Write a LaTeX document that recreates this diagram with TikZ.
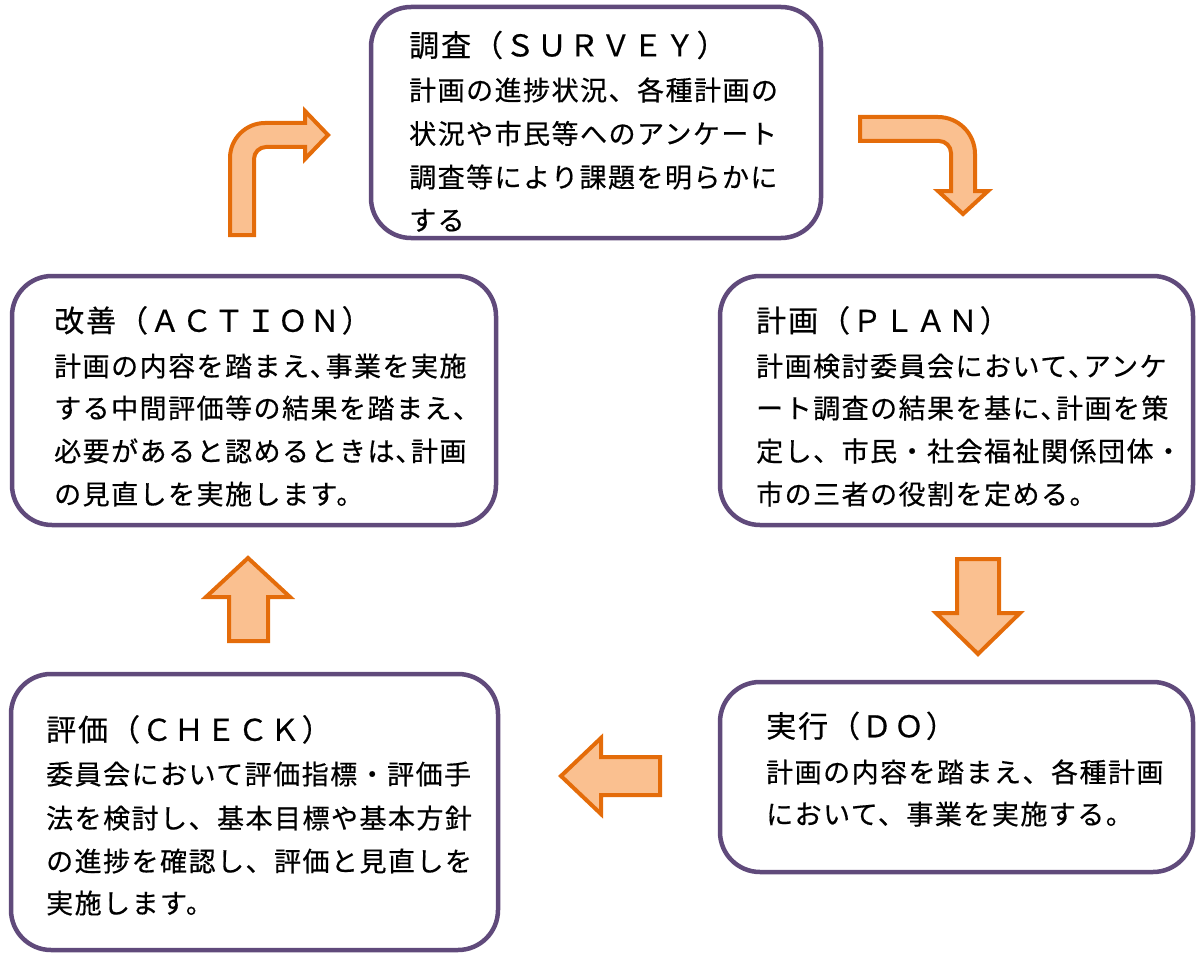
\documentclass[tikz,border=0pt]{standalone}
\usepackage{fontspec}
\newfontfamily\jpbody[LetterSpace=5.5,FakeBold=0.5]{Noto Sans CJK JP}
\newfontfamily\jptitle[LetterSpace=6.5,FakeBold=0.5]{Noto Sans CJK JP}
\definecolor{boxpurple}{HTML}{604A7B}
\definecolor{arrowline}{HTML}{E46C0A}
\definecolor{arrowfill}{HTML}{FAC090}
\tikzset{
  stagebox/.style={draw=boxpurple, line width=4.5pt, rounded corners=40pt, fill=white, inner sep=0pt, outer sep=0pt},
  titletext/.style={anchor=base west, inner sep=0pt, font=\jptitle\fontsize{30}{36}\selectfont},
  bodytext/.style={anchor=base west, inner sep=0pt, font=\jpbody\fontsize{27}{32}\selectfont},
  blockarrow/.style={draw=arrowline, fill=arrowfill, line width=4pt, line join=miter},
}
\begin{document}
\begin{tikzpicture}[x=1pt,y=-1pt]
\useasboundingbox (0,0) rectangle (1197,955);

% boxes
\node[stagebox, minimum width=450pt, minimum height=231pt] (survey) at (596,122.5) {};
\node[stagebox, minimum width=473pt, minimum height=249pt] (plan) at (956.5,400.5) {};
\node[stagebox, minimum width=484pt, minimum height=249pt] (action) at (254,400.5) {};
\node[stagebox, minimum width=473pt, minimum height=190pt] (do) at (956.5,777) {};
\node[stagebox, minimum width=487pt, minimum height=276pt] (check) at (254.5,812) {};

% SURVEY text
\node[titletext] (s0) at (409,56.4) {調査（ＳＵＲＶＥＹ）};
\node[bodytext] (s1) at (409,100.3) {計画の進捗状況、各種計画の};
\node[bodytext] (s2) at (409,143.8) {状況や市民等へのアンケート};
\node[bodytext] (s3) at (409,187.3) {調査等により課題を明らかに};
\node[bodytext] (s4) at (409,230.3) {する};

% PLAN text
\node[titletext] (p0) at (756,331.8) {計画（ＰＬＡＮ）};
\node[bodytext] (p1) at (756,376.3) {計画検討委員会において､アンケ};
\node[bodytext] (p2) at (756,418.3) {ート調査の結果を基に､計画を策};
\node[bodytext] (p3) at (756,461.3) {定し、市民・社会福祉関係団体・};
\node[bodytext] (p4) at (756,504.3) {市の三者の役割を定める。};

% ACTION text
\node[titletext] (a0) at (54,331.8) {改善（ＡＣＴＩＯＮ）};
\node[bodytext] (a1) at (54,376.3) {計画の内容を踏まえ､事業を実施};
\node[bodytext] (a2) at (54,418.3) {する中間評価等の結果を踏まえ、};
\node[bodytext] (a3) at (54,461.3) {必要があると認めるときは､計画};
\node[bodytext] (a4) at (54,504.3) {の見直しを実施します。};

% DO text
\node[titletext] (d0) at (766,737.3) {実行（ＤＯ）};
\node[bodytext] (d1) at (766,782.3) {計画の内容を踏まえ、各種計画};
\node[bodytext] (d2) at (766,824.3) {において、事業を実施する。};

% CHECK text
\node[titletext] (c0) at (46,740.8) {評価（ＣＨＥＣＫ）};
\node[bodytext] (c1) at (46,784.3) {委員会において評価指標・評価手};
\node[bodytext] (c2) at (46,828.3) {法を検討し、基本目標や基本方針};
\node[bodytext] (c3) at (46,871.3) {の進捗を確認し、評価と見直しを};
\node[bodytext] (c4) at (46,913.3) {実施します。};

% arrows
% ACTION -> SURVEY (bent up-right)
\draw[blockarrow] (230,235) -- (230,158) .. controls (230,138.7) and (245.7,123) .. (265,123)
  -- (305,123) -- (305,111) -- (328,135) -- (305,159) -- (305,147) -- (266,147)
  .. controls (259.4,147) and (254,152.4) .. (254,159) -- (254,235) -- cycle;
% SURVEY -> PLAN (bent right-down)
\draw[blockarrow] (860,117) -- (938,117) .. controls (958.4,117) and (975,133.6) .. (975,154)
  -- (975,191) -- (988,191) -- (963,214) -- (938,191) -- (951,191) -- (951,153)
  .. controls (951,146.4) and (945.6,141) .. (939,141) -- (860,141) -- cycle;
% PLAN -> DO (down)
\draw[blockarrow] (957,559) -- (999,559) -- (999,613) -- (1020,613) -- (978,654) -- (936,613) -- (957,613) -- cycle;
% DO -> CHECK (left)
\draw[blockarrow] (660,757) -- (601,757) -- (601,738) -- (561,776) -- (601,814) -- (601,795) -- (660,795) -- cycle;
% CHECK -> ACTION (up)
\draw[blockarrow] (229,641) -- (229,597) -- (206,597) -- (248,558) -- (290,597) -- (268,597) -- (268,641) -- cycle;
\end{tikzpicture}
\end{document}
